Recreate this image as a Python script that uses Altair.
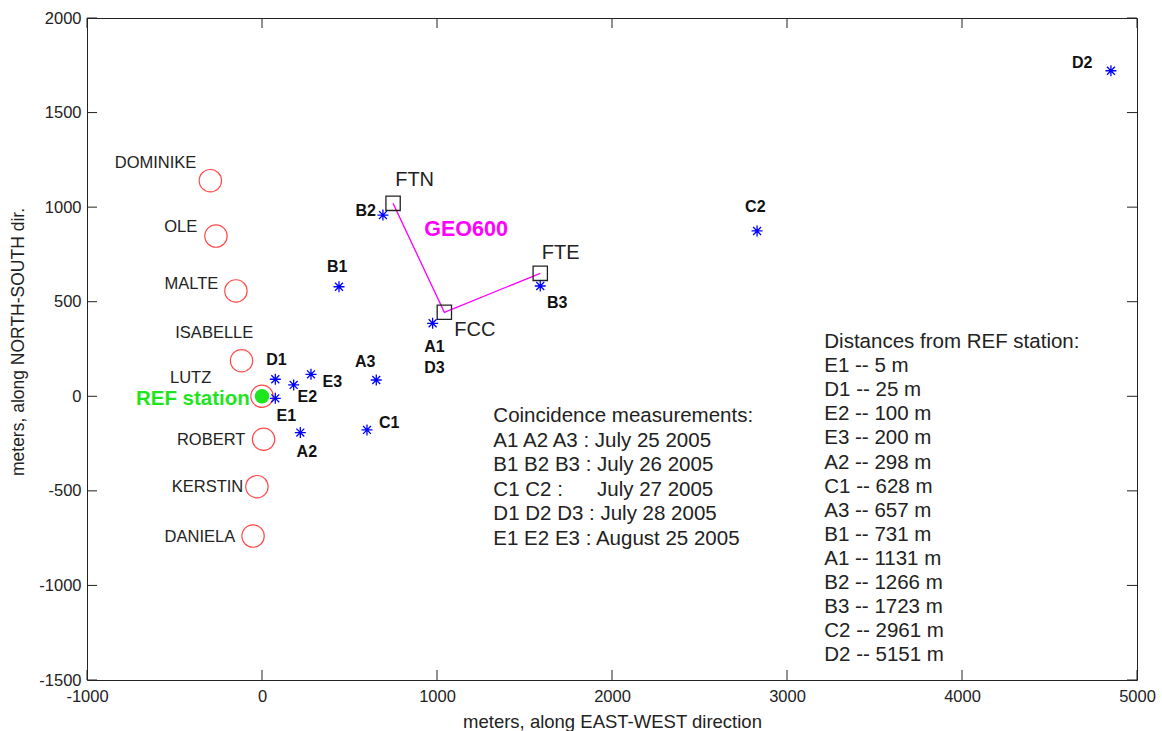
import altair as alt
import pandas as pd

W, H = 1050, 662
FONT = "Liberation Sans"

# ---- people (red circles) ----
person_names = ["DOMINIKE", "OLE", "MALTE", "ISABELLE", "LUTZ", "ROBERT", "KERSTIN", "DANIELA"]
person_x = [-295, -263, -149, -117, 0, 9, -29, -51]
person_y = [1140, 847, 557, 188, 0, -227, -478, -739]
person_label_x = [-375, -370, -250, -50, -290, -95, -107, -153]
person_label_y = [1233, 895, 594, 335, 97, -231, -480, -744]

# ---- coincidence measurement points (blue stars) ----
station_names = ["B2", "B1", "D1", "E2", "E3", "A3", "E1", "C1", "A2", "A1", "B3", "C2", "D2"]
station_x = [691, 440, 76, 181, 280, 653, 76, 600, 219, 975, 1590, 2829, 4851]
station_y = [958, 579, 90, 60, 116, 86, -11, -178, -192, 386, 583, 874, 1721]
station_label_text = ["B2", "B1", "D1", "E2", "E3", "A3", "E1", "C1", "A2", "A1", "D3", "B3", "C2", "D2"]
station_label_x = [593, 430, 82, 259, 402, 590, 139, 727, 256, 985, 985, 1687, 2819, 4687]
station_label_y = [980, 685, 192, -2, 77, 183, -104, -141, -293, 262, 148, 495, 999, 1764]

# ---- GEO600 buildings ----
geo_names = ["FTN", "FCC", "FTE"]
geo_x = [749, 1042, 1590]
geo_y = [1020, 444, 650]
geo_order = [0, 1, 2]
geo_label_x = [872, 1216, 1707]
geo_label_y = [1144, 350, 759]

# ---- REF station ----
ref_x, ref_y = [0], [0]
ref_label = ["REF station"]
ref_label_x, ref_label_y = [-395], [-16]
geo600_label = ["GEO600"]
geo600_label_x, geo600_label_y = [1166], [879]

# ---- text blocks ----
NB = "\u00a0"
coinc_lines = [
    "Coincidence measurements:",
    "A1 A2 A3 : July 25 2005",
    "B1 B2 B3 : July 26 2005",
    "C1 C2 :" + NB * 6 + "July 27 2005",
    "D1 D2 D3 : July 28 2005",
    "E1 E2 E3 : August 25 2005",
]
coinc_x, coinc_y = [1322], [-104]
dist_lines = [
    "Distances from REF station:",
    "E1 -- 5 m", "D1 -- 25 m", "E2 -- 100 m", "E3 -- 200 m", "A2 -- 298 m",
    "C1 -- 628 m", "A3 -- 657 m", "B1 -- 731 m", "A1 -- 1131 m", "B2 -- 1266 m",
    "B3 -- 1723 m", "C2 -- 2961 m", "D2 -- 5151 m",
]
dist_x, dist_y = [3213], [287]

x_title = "meters, along EAST-WEST direction"
y_title = ["meters, along NORTH-SOUTH dir."]

x_ticks = [-1000, 0, 1000, 2000, 3000, 4000, 5000]
y_ticks = [-1500, -1000, -500, 0, 500, 1000, 1500, 2000]

xs = alt.Scale(domain=[-1000, 5000], nice=False, zero=False)
ys = alt.Scale(domain=[-1500, 2000], nice=False, zero=False)

people = pd.DataFrame({"name": person_names, "x": person_x, "y": person_y,
                       "lx": person_label_x, "ly": person_label_y})
stations = pd.DataFrame({"name": station_names, "x": station_x, "y": station_y})
st_labels = pd.DataFrame({"t": station_label_text, "x": station_label_x, "y": station_label_y})
geo = pd.DataFrame({"name": geo_names, "x": geo_x, "y": geo_y, "o": geo_order,
                    "lx": geo_label_x, "ly": geo_label_y})
ref = pd.DataFrame({"x": ref_x, "y": ref_y})
refl = pd.DataFrame({"t": ref_label, "x": ref_label_x, "y": ref_label_y})
g6 = pd.DataFrame({"t": geo600_label, "x": geo600_label_x, "y": geo600_label_y})
coinc = pd.DataFrame({"t": ["\n".join(coinc_lines)], "x": coinc_x, "y": coinc_y})
dist = pd.DataFrame({"t": ["\n".join(dist_lines)], "x": dist_x, "y": dist_y})
ytitle_df = pd.DataFrame({"t": y_title})
xt = pd.DataFrame({"v": x_ticks})
yt = pd.DataFrame({"v": y_ticks})

LABEL_EXPR = "'' + datum.value"
xaxis = alt.Axis(values=x_ticks, title=x_title, ticks=False,
                 domain=False, grid=False, labelPadding=8, labelFlush=False, labelOverlap=False,
                 labelExpr=LABEL_EXPR, labelFont=FONT, labelFontSize=16.5, labelColor="#222222",
                 titleFont=FONT, titleFontSize=18.5, titleFontWeight="normal", titleColor="#222222",
                 titleY=41, titleBaseline="middle", titleAlign="center")
yaxis = alt.Axis(values=y_ticks, title=None, ticks=False,
                 domain=False, grid=False, labelPadding=6, labelFlush=False, labelOverlap=False,
                 labelExpr=LABEL_EXPR, labelFont=FONT, labelFontSize=16.5, labelColor="#222222")


def base_x(f):
    return alt.X(f, type="quantitative", scale=xs, axis=xaxis)


def base_y(f):
    return alt.Y(f, type="quantitative", scale=ys, axis=yaxis)


circles = alt.Chart(people).mark_point(shape="circle", filled=False, color="#ff0000",
                                       size=500, strokeWidth=1.2).encode(
    x=base_x("x"), y=base_y("y"))
person_text = alt.Chart(people).mark_text(align="right", baseline="middle", font=FONT,
                                          fontSize=16.5, color="#222222").encode(
    x=base_x("lx"), y=base_y("ly"), text="name:N")

star_path = "M-1,0L1,0M0,-1L0,1M-0.72,-0.72L0.72,0.72M-0.72,0.72L0.72,-0.72"
stars = alt.Chart(stations).mark_point(shape=star_path, filled=False, color="#0000ff",
                                       size=121, strokeWidth=1.3, opacity=1).encode(
    x=base_x("x"), y=base_y("y"))
star_text = alt.Chart(st_labels).mark_text(align="center", baseline="middle", font=FONT,
                                           fontSize=16, fontWeight="bold", color="#111111").encode(
    x=base_x("x"), y=base_y("y"), text="t:N")

geo_line = alt.Chart(geo).mark_line(color="#ff00ff", strokeWidth=1.3).encode(
    x=base_x("x"), y=base_y("y"), order="o:Q")
geo_sq = alt.Chart(geo).mark_point(shape="square", filled=False, color="#222222",
                                   size=205, strokeWidth=1.3, opacity=1).encode(
    x=base_x("x"), y=base_y("y"))
geo_text = alt.Chart(geo).mark_text(align="center", baseline="middle", font=FONT,
                                    fontSize=20, color="#222222").encode(
    x=base_x("lx"), y=base_y("ly"), text="name:N")
g6_text = alt.Chart(g6).mark_text(align="center", baseline="middle", font=FONT,
                                  fontSize=21.5, fontWeight="bold", color="#ff00ff").encode(
    x=base_x("x"), y=base_y("y"), text="t:N")

ref_dot = alt.Chart(ref).mark_point(shape="circle", filled=True, color="#1ee61e",
                                    size=210, opacity=1).encode(x=base_x("x"), y=base_y("y"))
ref_text = alt.Chart(refl).mark_text(align="center", baseline="middle", font=FONT,
                                     fontSize=20.5, fontWeight="bold", color="#1ee61e").encode(
    x=base_x("x"), y=base_y("y"), text="t:N")

coinc_text = alt.Chart(coinc).mark_text(align="left", baseline="middle", font=FONT,
                                        fontSize=20.5, lineBreak="\n", lineHeight=24.6,
                                        color="#222222").encode(
    x=base_x("x"), y=base_y("y"), text="t:N")
dist_text = alt.Chart(dist).mark_text(align="left", baseline="middle", font=FONT,
                                      fontSize=20.5, lineBreak="\n", lineHeight=24.1,
                                      color="#222222").encode(
    x=base_x("x"), y=base_y("y"), text="t:N")

ytitle_text = alt.Chart(ytitle_df).mark_text(align="center", baseline="middle", font=FONT,
                                             fontSize=17.5, angle=270, color="#222222").encode(
    x=alt.value(-68), y=alt.value(324), text="t:N")

tick_b = alt.Chart(xt).mark_rule(color="#222222").encode(
    x=base_x("v"), y=alt.value(H), y2=alt.value(H - 10))
tick_t = alt.Chart(xt).mark_rule(color="#222222").encode(
    x=base_x("v"), y=alt.value(0), y2=alt.value(10))
tick_l = alt.Chart(yt).mark_rule(color="#222222").encode(
    y=base_y("v"), x=alt.value(0), x2=alt.value(10))
tick_r = alt.Chart(yt).mark_rule(color="#222222").encode(
    y=base_y("v"), x=alt.value(W), x2=alt.value(W - 10))

chart = alt.layer(
    circles, tick_b, tick_t, tick_l, tick_r, geo_line, geo_sq, stars, ref_dot,
    person_text, star_text, geo_text, g6_text, ref_text, coinc_text, dist_text, ytitle_text
).properties(
    width=W, height=H,
    autosize=alt.AutoSizeParams(type="none"),
    padding={"left": 87, "top": 18, "right": 25, "bottom": 51},
    background="white",
).configure_view(
    stroke="#222222", strokeWidth=1
)

chart.save("out.html", embed_options={"renderer": "svg", "actions": False})
